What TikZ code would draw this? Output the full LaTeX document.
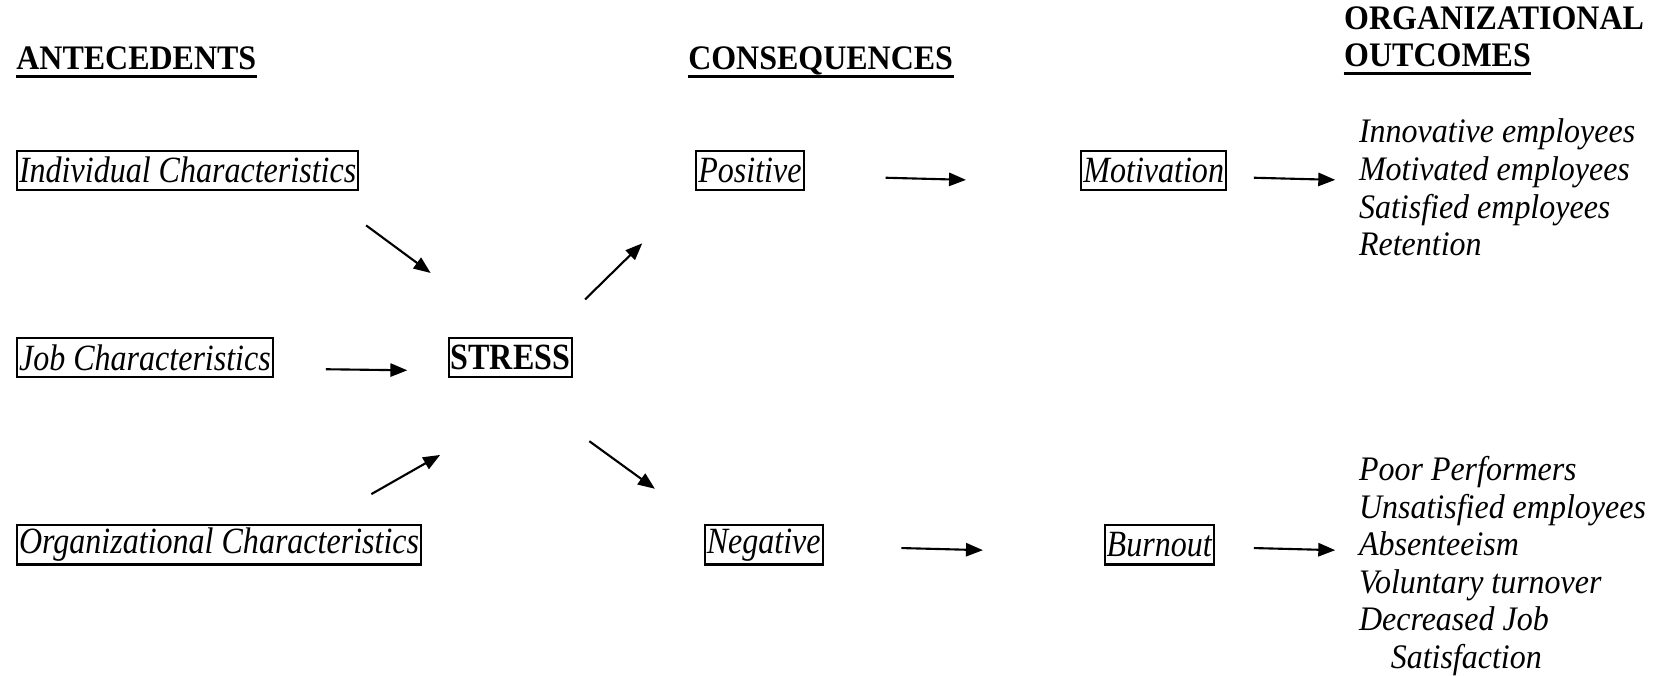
\documentclass[tikz,border=0pt]{standalone}
\usepackage{fontspec}
\setmainfont{Liberation Serif}[FakeStretch=0.93]
\newfontfamily\facfont{Liberation Serif}[FakeStretch=0.865]
\usetikzlibrary{arrows.meta,positioning}

\begin{document}
\begin{tikzpicture}[x=0.4pt,y=-0.4pt,
    font=\fontsize{13}{14.2}\selectfont,
    fac/.style={draw,line width=0.8pt,inner xsep=0.8pt,inner ysep=0pt,minimum height=14.8pt,anchor=west,font=\facfont\fontsize{14}{15}\selectfont\itshape},
    head/.style={anchor=base west,inner sep=0pt,font=\fontsize{13}{14.2}\selectfont\bfseries},
    outc/.style={anchor=north west,inner sep=0pt,align=left,font=\fontsize{13}{14.2}\selectfont\itshape},
    ul/.style={line width=1.1pt},
    arr/.style={-{Triangle[length=6.4pt,width=5pt]},line width=0.8pt}]
    \useasboundingbox (0,0) rectangle (1568,638);

    % column headings
    \node[head](ante) at (15,66){ANTECEDENTS};
    \node[head](cons) at (650,66){CONSEQUENCES};
    \node[head](orgh) at (1270,28){ORGANIZATIONAL};
    \node[head](outh) at (1270,63){OUTCOMES};
    \draw[ul]([yshift=-2.6pt]ante.base west) -- ([yshift=-2.6pt]ante.base east);
    \draw[ul]([yshift=-2.6pt]cons.base west) -- ([yshift=-2.6pt]cons.base east);
    \draw[ul]([yshift=-2.6pt]outh.base west) -- ([yshift=-2.6pt]outh.base east);

    % boxes
    \node[fac](ind) at (15,161){Individual Characteristics};
    \node[fac](job) at (15,338){Job Characteristics};
    \node[fac](org) at (15,515){Organizational Characteristics};
    \node[fac,font=\facfont\fontsize{14}{15}\selectfont\bfseries](stress) at (423,338){STRESS};
    \node[fac](pos) at (657,161){Positive};
    \node[fac](neg) at (665,515){Negative};
    \node[fac](mot) at (1021,161){Motivation};
    \node[fac](burn) at (1043,515){Burnout};

    % outcomes
    \node[outc](good) at (1284,112){Innovative employees\\Motivated employees\\Satisfied employees\\Retention};
    \node[outc](bad) at (1284,431){Poor Performers\\Unsatisfied employees\\Absenteeism\\Voluntary turnover\\Decreased Job\\\hspace*{12pt}Satisfaction};

    % arrow ends
    \coordinate(ind-o) at (346,213); \coordinate(ind-i) at (407,258);
    \coordinate(job-o) at (308,349); \coordinate(job-i) at (385,350);
    \coordinate(org-o) at (351,467); \coordinate(org-i) at (416,430);
    \coordinate(pos-o) at (553,283); \coordinate(pos-i) at (607,230);
    \coordinate(neg-o) at (557,417); \coordinate(neg-i) at (619,462);
    \coordinate(mot-o) at (837,168); \coordinate(mot-i) at (913,170);
    \coordinate(good-o) at (1185,168); \coordinate(good-i) at (1262,170);
    \coordinate(burn-o) at (852,518); \coordinate(burn-i) at (929,520);
    \coordinate(bad-o) at (1185,518); \coordinate(bad-i) at (1262,520);

    \draw[arr](ind-o) -- (ind-i);
    \draw[arr](job-o) -- (job-i);
    \draw[arr](org-o) -- (org-i);
    \draw[arr](pos-o) -- (pos-i);
    \draw[arr](neg-o) -- (neg-i);
    \draw[arr](mot-o) -- (mot-i);
    \draw[arr](good-o) -- (good-i);
    \draw[arr](burn-o) -- (burn-i);
    \draw[arr](bad-o) -- (bad-i);
\end{tikzpicture}
\end{document}
